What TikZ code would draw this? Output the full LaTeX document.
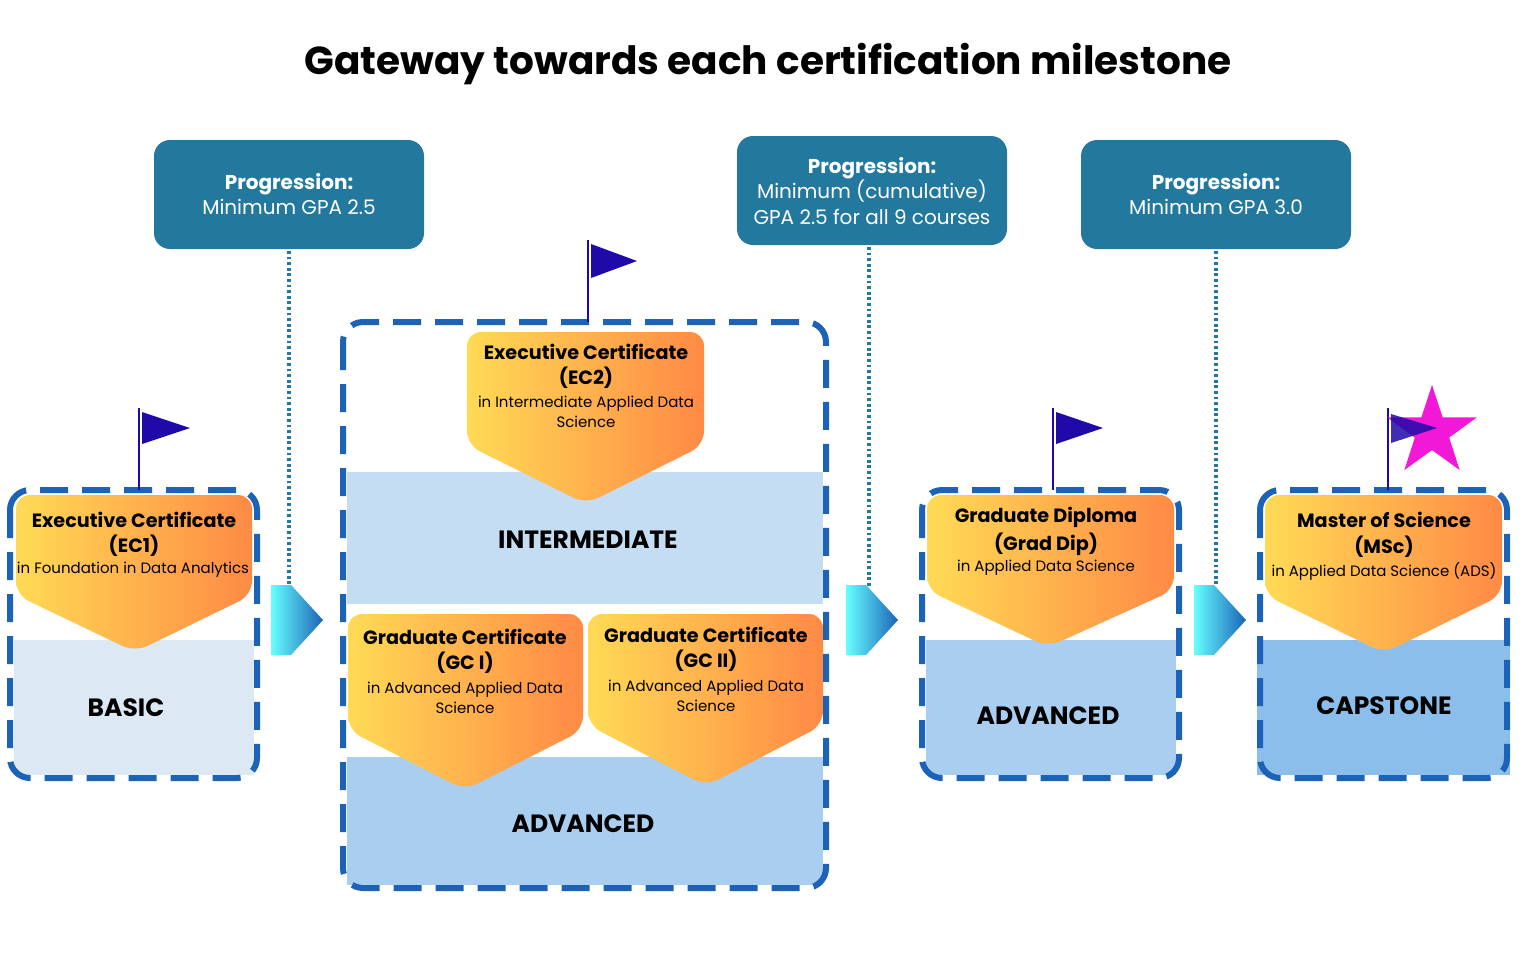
\documentclass[tikz,border=0pt]{standalone}
\usepackage{fontspec}
\setmainfont{Poppins}
\usetikzlibrary{shapes.geometric}
\definecolor{teal}{HTML}{23789D}
\definecolor{dash}{HTML}{1C63B8}
\definecolor{band1}{HTML}{DCE9F5}
\definecolor{band2}{HTML}{C5DDF2}
\definecolor{band3}{HTML}{AACEF0}
\definecolor{band4}{HTML}{8CBEEC}
\definecolor{gy}{HTML}{FFDA55}
\definecolor{go}{HTML}{FF8A45}
\definecolor{flag}{HTML}{1E0AA8}
\definecolor{starpink}{HTML}{F218D8}
\begin{document}
\begin{tikzpicture}[x=0.5pt,y=-0.5pt,
  prog/.style={fill=teal,rounded corners=8pt},
  ptxt/.style={text=white,font=\fontsize{10}{12.8}\selectfont,align=center},
  frame/.style={draw=dash,line width=3pt,dash pattern=on 14pt off 7pt,rounded corners=10pt},
  pent/.style={left color=gy,right color=go,rounded corners=7pt},
  hd/.style={font=\fontsize{9.6}{12}\selectfont\bfseries},
  sm/.style={font=\fontsize{7.5}{10}\selectfont,align=center},
  lvl/.style={font=\fontsize{12.5}{14}\selectfont\bfseries},
  dots/.style={draw=teal,line width=1.6pt,dash pattern=on 1.4pt off 1.4pt},
  flagpole/.style={draw=flag,line width=1.2pt},
  arr/.style={left color=cyan!60!white,right color=dash}]
\useasboundingbox (0,0) rectangle (1536,960);
\fill[white] (0,0) rectangle (1536,960);
\node[font=\fontsize{19.5}{22}\selectfont\bfseries] (title) at (768,64) {Gateway towards each certification milestone};

% progression boxes
\fill[prog] (154,140) rectangle (424,249);
\node[ptxt] (p1) at (289,194) {\textbf{Progression:}\\Minimum GPA 2.5};
\fill[prog] (737,136) rectangle (1007,245);
\node[ptxt] (p2) at (872,191) {\textbf{Progression:}\\Minimum (cumulative)\\GPA 2.5 for all 9 courses};
\fill[prog] (1081,140) rectangle (1351,249);
\node[ptxt] (p3) at (1216,194) {\textbf{Progression:}\\Minimum GPA 3.0};
\coordinate (p1b) at (289,251); \coordinate (d1) at (289,587);
\coordinate (p2b) at (869,247); \coordinate (d2) at (869,587);
\coordinate (p3b) at (1216,251); \coordinate (d3) at (1216,587);
\draw[dots] (p1b) -- (d1);
\draw[dots] (p2b) -- (d2);
\draw[dots] (p3b) -- (d3);

% arrows
\foreach \a in {271,846,1194}{
  \shade[arr] (\a,585) -- (\a+20,585) -- (\a+52,620) -- (\a+20,655) -- (\a,655) -- cycle;}

% ---- Box 1
\fill[band1] (14,640) rectangle (254,775);
\shade[pent] (16,495) -- (252,495) -- (252,595) -- (135,652) -- (16,595) -- cycle;
\draw[frame] (10,490) rectangle (257,778);
\node[hd] (ec1a) at (134,520) {Executive Certificate};
\node[hd] (ec1b) at (134,546) {(EC1)};
\node[sm] (ec1c) at (133,570) {in Foundation in Data Analytics};
\node[lvl] (basic) at (126,708) {BASIC};
\draw[flagpole] (139,408) -- (139,490);
\fill[flag] (142,412) -- (190,428) -- (142,444) -- cycle;

% ---- Box 2
\fill[band2] (347,472) rectangle (823,604);
\fill[band3] (347,757) rectangle (823,885);
\shade[pent] (467,332) -- (704,332) -- (704,445) -- (586,504) -- (467,445) -- cycle;
\shade[pent] (348,614) -- (583,614) -- (583,730) -- (465,790) -- (348,730) -- cycle;
\shade[pent] (588,614) -- (823,614) -- (823,725) -- (706,786) -- (588,725) -- cycle;
\draw[frame] (343,322) rectangle (826,888);
\node[hd] (ec2a) at (586,352) {Executive Certificate};
\node[hd] (ec2b) at (586,378) {(EC2)};
\node[sm] (ec2c) at (586,412) {in Intermediate Applied Data\\Science};
\node[lvl] (inter) at (588,540) {INTERMEDIATE};
\node[hd] (g1a) at (465,637) {Graduate Certificate};
\node[hd] (g1b) at (465,663) {(GC I)};
\node[sm] (g1c) at (465,698) {in Advanced Applied Data\\Science};
\node[hd] (g2a) at (706,635) {Graduate Certificate};
\node[hd] (g2b) at (706,661) {(GC II)};
\node[sm] (g2c) at (706,696) {in Advanced Applied Data\\Science};
\node[lvl] (adv1) at (583,824) {ADVANCED};
\draw[flagpole] (588,240) -- (588,322);
\fill[flag] (591,244) -- (637,261) -- (591,278) -- cycle;

% ---- Box 3
\fill[band3] (926,640) rectangle (1176,775);
\shade[pent] (927,495) -- (1174,495) -- (1174,590) -- (1048,647) -- (927,590) -- cycle;
\draw[frame] (922,490) rectangle (1179,778);
\node[hd] (gda) at (1046,517) {Graduate Diploma};
\node[hd] (gdb) at (1046,544) {(Grad Dip)};
\node[sm] (gdc) at (1046,568) {in Applied Data Science};
\node[lvl] (adv2) at (1048,716) {ADVANCED};
\draw[flagpole] (1053,408) -- (1053,490);
\fill[flag] (1056,412) -- (1103,428) -- (1056,444) -- cycle;

% ---- Box 4
\fill[band4] (1257,640) rectangle (1510,775);
\shade[pent] (1265,495) -- (1502,495) -- (1502,595) -- (1384,653) -- (1265,595) -- cycle;
\draw[frame] (1260,490) rectangle (1507,778);
\node[hd] (msa) at (1384,520) {Master of Science};
\node[hd] (msb) at (1384,547) {(MSc)};
\node[sm] (msc) at (1384,571) {in Applied Data Science (ADS)};
\node[lvl] (cap) at (1384,706) {CAPSTONE};
\draw[flagpole] (1388,408) -- (1388,490);
\node[star,star points=5,star point ratio=2.6,fill=starpink,inner sep=0pt,minimum size=47pt] (st) at (1432,432) {};
\fill[flag,opacity=0.85] (1391,414) -- (1437,428) -- (1391,443) -- cycle;
\end{tikzpicture}
\end{document}
